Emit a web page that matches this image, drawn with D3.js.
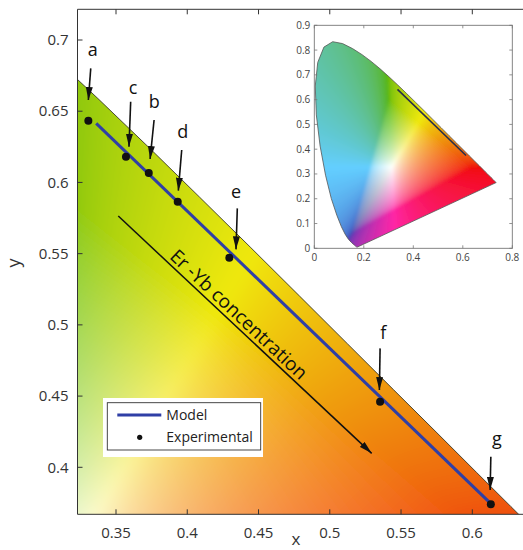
<!DOCTYPE html>
<html><head><meta charset="utf-8">
<script src="https://cdn.jsdelivr.net/npm/d3@7"></script>
<style>
html,body{margin:0;padding:0;background:#fff;}
svg{display:block;font-family:"Open Sans",sans-serif;}
</style>
</head><body>
<svg id="chart" width="523" height="550"></svg>
<script>
// ---- Er-Yb emission chromaticity: experimental points and model trend ----
const sampleLabels = ["a", "c", "b", "d", "e", "f", "g"];
const expX = [0.3306, 0.3570, 0.3730, 0.3933, 0.4295, 0.5353, 0.6130];
const expY = [0.6433, 0.6180, 0.6066, 0.5865, 0.5471, 0.4460, 0.3740];
const modelX = [0.3361, 0.6130];
const modelY = [0.6415, 0.3745];

// axis ticks
const xTicks = [0.35, 0.4, 0.45, 0.5, 0.55, 0.6];
const yTicks = [0.4, 0.45, 0.5, 0.55, 0.6, 0.65, 0.7];
const insetXTicks = [0, 0.2, 0.4, 0.6, 0.8];
const insetYTicks = [0, 0.1, 0.2, 0.3, 0.4, 0.5, 0.6, 0.7, 0.8, 0.9];

// CIE 1931 2° spectral locus, 380-700 nm in 5 nm steps
const locusX = [0.1741,0.1740,0.1738,0.1736,0.1733,0.1730,0.1726,0.1721,0.1714,0.1703,0.1689,0.1669,0.1644,0.1611,0.1566,0.1510,0.1440,0.1355,0.1241,0.1096,0.0913,0.0687,0.0454,0.0235,0.0082,0.0039,0.0139,0.0389,0.0743,0.1142,0.1547,0.1929,0.2296,0.2658,0.3016,0.3373,0.3731,0.4087,0.4441,0.4788,0.5125,0.5448,0.5752,0.6029,0.6270,0.6482,0.6658,0.6801,0.6915,0.7006,0.7079,0.7140,0.7190,0.7230,0.7260,0.7283,0.7300,0.7311,0.7320,0.7327,0.7334,0.7340,0.7344,0.7346,0.7347];
const locusY = [0.0050,0.0050,0.0049,0.0049,0.0048,0.0048,0.0048,0.0048,0.0051,0.0058,0.0069,0.0086,0.0109,0.0138,0.0177,0.0227,0.0297,0.0399,0.0578,0.0868,0.1327,0.2007,0.2950,0.4127,0.5384,0.6548,0.7502,0.8120,0.8338,0.8262,0.8059,0.7816,0.7543,0.7243,0.6923,0.6589,0.6245,0.5896,0.5547,0.5202,0.4866,0.4544,0.4242,0.3965,0.3725,0.3514,0.3340,0.3197,0.3083,0.2993,0.2920,0.2859,0.2809,0.2770,0.2740,0.2717,0.2700,0.2689,0.2680,0.2673,0.2666,0.2660,0.2656,0.2654,0.2653];

// trend arrow (data units)
const trendFrom = [0.3516, 0.5764];
const trendTo = [0.5294, 0.4098];
const trendText = "Er -Yb concentration";

// ---- layout ----
const svg = d3.select("#chart");
const plot = {left: 77.5, top: 9.3, right: 523, bottom: 514.3};
const x = d3.scaleLinear().domain([0.35, 0.6]).range([116, 472.3]);
const y = d3.scaleLinear().domain([0.4, 0.7]).range([467.3, 40]);
const ix = d3.scaleLinear().domain([0, 0.8]).range([314.3, 512.3]);
const iy = d3.scaleLinear().domain([0, 0.9]).range([248.3, 25.3]);

// label arrow placement relative to each point (pixels): tip offset, lean, length, text offset
const labelLayout = {
  a: {dx: 0,    dy: -20.7, lean: 2.4, len: 31.7, tx: 2,    ty: -17.6},
  c: {dx: 3,    dy: -10,   lean: 1.7, len: 45,   tx: 2.3,  ty: -12.7},
  b: {dx: 1.3,  dy: -14,   lean: 4,   len: 39,   tx: 0.3,  ty: -17},
  d: {dx: 0.6,  dy: -11,   lean: 3.4, len: 40.7, tx: 1,    ty: -17},
  e: {dx: 6.7,  dy: -8.4,  lean: 1.3, len: 41,   tx: -1.3, ty: -15.6},
  f: {dx: -0.7, dy: -11.7, lean: 0.7, len: 41.7, tx: 3.3,  ty: -14.5},
  g: {dx: -0.7, dy: -14.3, lean: 0.7, len: 33.3, tx: 6,    ty: -17}
};

// xy chromaticity -> displayable colour (gamut mapped by adding white, print-like tone)
function chromaColor(cx, cy) {
  const X = cx / cy, Y = 1, Z = (1 - cx - cy) / cy;
  let r =  3.2406 * X - 1.5372 * Y - 0.4986 * Z;
  let g = -0.9689 * X + 1.8758 * Y + 0.0415 * Z;
  let b =  0.0557 * X - 0.2040 * Y + 1.0570 * Z;
  const m = Math.min(r, g, b);
  if (m < 0) { r -= m; g -= m; b -= m; }
  const M = Math.max(r, g, b);
  r /= M; g /= M; b /= M;
  const enc = v => 255 * (v <= 0.0031308 ? 12.92 * v : 1.055 * Math.pow(v, 1 / 2.4) - 0.055);
  const R = enc(r), G = enc(g), B = enc(b);
  const gx = Math.max(0, G - R) * (1 - B / 255);
  const bx = Math.max(0, B - Math.max(R, G));
  const cyan = Math.max(0, Math.min(G, B) - R);
  const R2 = 0.9 * R + 0.29 * gx + 0.06 * B * (R / 255) + 10 + 0.2 * bx + 0.35 * cyan;
  const G2 = 0.86 * G + 0.05 * R - 0.15 * Math.max(0, G - R) + 0.1 * B * (B / 255) + 0.15 * bx;
  const B2 = (15 + 240 * Math.pow(B / 255, 1.5)) * (1 - 0.3 * bx / 255)
           * (1 - 0.35 * (R / 255) * (1 - G / 255));
  const c = v => Math.max(0, Math.min(255, Math.round(v)));
  return [c(R2), c(G2), c(B2)];
}

function fieldImage(sx, sy, x0, y0, w, h, minY) {
  const cnv = document.createElement("canvas");
  cnv.width = w; cnv.height = h;
  const ctx = cnv.getContext("2d");
  const img = ctx.createImageData(w, h);
  for (let j = 0; j < h; j++) {
    const cy = Math.max(minY, sy.invert(y0 + j + 0.5));
    for (let i = 0; i < w; i++) {
      const cx = Math.max(0.001, sx.invert(x0 + i + 0.5));
      const k = 4 * (j * w + i);
      const col = chromaColor(cx, cy);
      img.data[k] = col[0]; img.data[k + 1] = col[1]; img.data[k + 2] = col[2]; img.data[k + 3] = 255;
    }
  }
  ctx.putImageData(img, 0, 0);
  return cnv.toDataURL();
}

const locusPts = locusX.map((v, i) => [v, locusY[i]]);
const defs = svg.append("defs");
defs.append("clipPath").attr("id", "plotClip").append("rect")
  .attr("x", plot.left).attr("y", plot.top)
  .attr("width", plot.right - plot.left).attr("height", plot.bottom - plot.top);
defs.append("clipPath").attr("id", "locusMain").append("path")
  .attr("d", d3.line().x(d => x(d[0])).y(d => y(d[1]))(locusPts) + "Z");
defs.append("clipPath").attr("id", "locusInset").append("path")
  .attr("d", d3.line().x(d => ix(d[0])).y(d => iy(d[1]))(locusPts) + "Z");
defs.append("marker").attr("id", "head")
  .attr("viewBox", "0 0 13 7").attr("refX", 13).attr("refY", 3.5)
  .attr("markerWidth", 13).attr("markerHeight", 7)
  .attr("markerUnits", "userSpaceOnUse").attr("orient", "auto")
  .append("path").attr("d", "M0,0 L13,3.5 L0,7 Z").attr("fill", "#111");
defs.append("filter").attr("id", "softMain")
  .attr("x", "-5%").attr("y", "-5%").attr("width", "110%").attr("height", "110%")
  .append("feGaussianBlur").attr("stdDeviation", 6);
defs.append("filter").attr("id", "softInset")
  .attr("x", "-5%").attr("y", "-5%").attr("width", "110%").attr("height", "110%")
  .append("feGaussianBlur").attr("stdDeviation", 1.5);

// ---- main chromaticity field (rendered with a margin so the soft edge stays hidden) ----
const pad = 24;
const mx0 = Math.floor(plot.left) - pad, my0 = Math.floor(plot.top) - pad;
const mw = Math.ceil(plot.right - plot.left) + 2 * pad, mh = Math.ceil(plot.bottom - plot.top) + 2 * pad;
const main = svg.append("g").attr("clip-path", "url(#plotClip)");
main.append("g").attr("clip-path", "url(#locusMain)")
  .append("image").attr("x", mx0).attr("y", my0).attr("width", mw).attr("height", mh)
  .attr("filter", "url(#softMain)")
  .attr("href", fieldImage(x, y, mx0, my0, mw, mh, 0.01));
main.append("path")
  .attr("d", d3.line().x(d => x(d[0])).y(d => y(d[1]))(locusPts))
  .attr("fill", "none").attr("stroke", "#3a3a2a").attr("stroke-width", 0.9);

// model line
main.append("path")
  .attr("d", d3.line().x(d => x(d[0])).y(d => y(d[1]))(modelX.map((v, i) => [v, modelY[i]])))
  .attr("fill", "none").attr("stroke", "#2f3fa6").attr("stroke-width", 3);

// experimental points
main.selectAll("circle.exp").data(sampleLabels).join("circle").attr("class", "exp")
  .attr("cx", (d, i) => x(expX[i])).attr("cy", (d, i) => y(expY[i])).attr("r", 4)
  .attr("fill", "#111");

// labelled arrows
sampleLabels.forEach((lab, i) => {
  const L = labelLayout[lab];
  const tipX = x(expX[i]) + L.dx, tipY = y(expY[i]) + L.dy;
  const tailX = tipX + L.lean, tailY = tipY - L.len;
  svg.append("line").attr("x1", tailX).attr("y1", tailY).attr("x2", tipX).attr("y2", tipY)
    .attr("stroke", "#111").attr("stroke-width", 1.6).attr("marker-end", "url(#head)");
  svg.append("text").attr("x", tailX + L.tx).attr("y", tailY + L.ty)
    .attr("text-anchor", "middle").attr("dominant-baseline", "middle")
    .attr("font-size", 18).attr("fill", "#111").text(lab);
});

// concentration trend arrow and caption
{
  const x1 = x(trendFrom[0]), y1 = y(trendFrom[1]), x2 = x(trendTo[0]), y2 = y(trendTo[1]);
  svg.append("line").attr("x1", x1).attr("y1", y1).attr("x2", x2).attr("y2", y2)
    .attr("stroke", "#111").attr("stroke-width", 1.5).attr("marker-end", "url(#head)");
  const ang = Math.atan2(y2 - y1, x2 - x1);
  const t = 0.447;
  const px = x1 + t * (x2 - x1) + 4 * Math.sin(ang);
  const py = y1 + t * (y2 - y1) - 4 * Math.cos(ang);
  svg.append("text")
    .attr("transform", `translate(${px},${py}) rotate(${ang * 180 / Math.PI})`)
    .attr("text-anchor", "middle").attr("font-size", 19).attr("fill", "#111")
    .text(trendText);
}

// legend
{
  const lg = svg.append("g");
  lg.append("rect").attr("x", 103).attr("y", 398).attr("width", 160).attr("height", 59).attr("fill", "#fff");
  lg.append("rect").attr("x", 107.3).attr("y", 402.7).attr("width", 153.4).attr("height", 47.3)
    .attr("fill", "none").attr("stroke", "#333").attr("stroke-width", 0.9);
  lg.append("line").attr("x1", 117.3).attr("x2", 161.3).attr("y1", 415).attr("y2", 415)
    .attr("stroke", "#2f3fa6").attr("stroke-width", 3);
  lg.append("circle").attr("cx", 139.7).attr("cy", 437.3).attr("r", 2.6).attr("fill", "#111");
  lg.append("text").attr("x", 166.3).attr("y", 415).attr("dy", "0.35em")
    .attr("font-size", 14).attr("fill", "#222").text("Model");
  lg.append("text").attr("x", 166.3).attr("y", 437.3).attr("dy", "0.35em")
    .attr("font-size", 14).attr("fill", "#222").text("Experimental");
}

// ---- main axes frame ----
const frame = svg.append("g").attr("stroke", "#333").attr("stroke-width", 1).attr("fill", "none");
frame.append("line").attr("x1", plot.left).attr("x2", plot.left).attr("y1", plot.top).attr("y2", plot.bottom);
frame.append("line").attr("x1", plot.left).attr("x2", plot.right).attr("y1", plot.top).attr("y2", plot.top);
frame.append("line").attr("x1", plot.left).attr("x2", plot.right).attr("y1", plot.bottom).attr("y2", plot.bottom);
xTicks.forEach(v => {
  frame.append("line").attr("x1", x(v)).attr("x2", x(v)).attr("y1", plot.bottom).attr("y2", plot.bottom - 5);
  frame.append("line").attr("x1", x(v)).attr("x2", x(v)).attr("y1", plot.top).attr("y2", plot.top + 5);
});
yTicks.forEach(v => {
  frame.append("line").attr("x1", plot.left).attr("x2", plot.left + 5).attr("y1", y(v)).attr("y2", y(v));
});
svg.append("g").selectAll("text").data(xTicks).join("text")
  .attr("x", d => x(d)).attr("y", plot.bottom + 24).attr("text-anchor", "middle")
  .attr("font-size", 15).attr("fill", "#333").text(d => String(d));
svg.append("g").selectAll("text").data(yTicks).join("text")
  .attr("x", plot.left - 9).attr("y", d => y(d)).attr("dy", "0.35em").attr("text-anchor", "end")
  .attr("font-size", 15).attr("fill", "#333").text(d => String(d));
svg.append("text").attr("x", 296).attr("y", 545).attr("text-anchor", "middle")
  .attr("font-size", 17).attr("fill", "#333").text("x");
svg.append("text").attr("transform", "translate(20,263) rotate(-90)").attr("text-anchor", "middle")
  .attr("font-size", 18).attr("fill", "#333").text("y");

// ---- inset: full CIE 1931 diagram ----
{
  const g = svg.append("g");
  const bx0 = ix(0), bx1 = ix(0.8), by0 = iy(0.9), by1 = iy(0);
  g.append("rect").attr("x", bx0).attr("y", by0).attr("width", bx1 - bx0).attr("height", by1 - by0)
    .attr("fill", "#fff");
  const fx0 = Math.floor(bx0) - 6, fy0 = Math.floor(by0) - 6;
  const fw = Math.ceil(bx1 - bx0) + 12, fh = Math.ceil(by1 - by0) + 12;
  g.append("g").attr("clip-path", "url(#locusInset)")
    .append("image").attr("x", fx0).attr("y", fy0).attr("width", fw).attr("height", fh)
    .attr("filter", "url(#softInset)")
    .attr("href", fieldImage(ix, iy, fx0, fy0, fw, fh, 0.012));
  g.append("path")
    .attr("d", d3.line().x(d => ix(d[0])).y(d => iy(d[1]))(locusPts) + "Z")
    .attr("fill", "none").attr("stroke", "#555").attr("stroke-width", 0.8);
  g.append("path")
    .attr("d", d3.line().x(d => ix(d[0])).y(d => iy(d[1]))(modelX.map((v, i) => [v, modelY[i]])))
    .attr("fill", "none").attr("stroke", "#2a2f4a").attr("stroke-width", 1.6);
  g.append("rect").attr("x", bx0).attr("y", by0).attr("width", bx1 - bx0).attr("height", by1 - by0)
    .attr("fill", "none").attr("stroke", "#777").attr("stroke-width", 0.9);
  const tk = g.append("g").attr("stroke", "#777").attr("stroke-width", 0.8);
  insetXTicks.forEach(v => {
    tk.append("line").attr("x1", ix(v)).attr("x2", ix(v)).attr("y1", by1).attr("y2", by1 - 3);
    tk.append("line").attr("x1", ix(v)).attr("x2", ix(v)).attr("y1", by0).attr("y2", by0 + 3);
  });
  insetYTicks.forEach(v => {
    tk.append("line").attr("x1", bx0).attr("x2", bx0 + 3).attr("y1", iy(v)).attr("y2", iy(v));
    tk.append("line").attr("x1", bx1).attr("x2", bx1 - 3).attr("y1", iy(v)).attr("y2", iy(v));
  });
  g.append("g").selectAll("text").data(insetXTicks).join("text")
    .attr("x", d => ix(d)).attr("y", by1 + 13).attr("text-anchor", "middle")
    .attr("font-size", 10).attr("fill", "#444").text(d => String(d));
  g.append("g").selectAll("text").data(insetYTicks).join("text")
    .attr("x", bx0 - 4).attr("y", d => iy(d)).attr("dy", "0.35em").attr("text-anchor", "end")
    .attr("font-size", 10).attr("fill", "#444").text(d => String(d));
}
</script>
</body></html>
